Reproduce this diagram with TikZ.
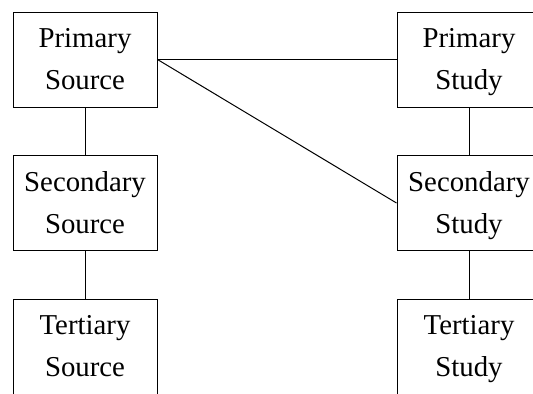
\documentclass[tikz,border=0pt]{standalone}
\usepackage{fontspec}
\setmainfont{Liberation Serif}
\usepackage{tikz}

\newcommand{\twoline}[2]{\raisebox{-0.5pt}[\height][\depth]{\begin{tabular}{@{}c@{}}#1\\#2\end{tabular}}}

\tikzset{
  litbox/.style={draw, line width=0.5pt, minimum width=72pt, minimum height=47.5pt,
    inner sep=0pt, font=\fontsize{14.4}{21}\selectfont},
  link/.style={line width=0.5pt}
}

\begin{document}
\begin{tikzpicture}[x=0.5pt, y=-0.5pt]
  \useasboundingbox (0,0) rectangle (533,393);
  % Nodes
  \node[litbox] (psrc) at (85, 59.5) {\twoline{Primary}{Source}};
  \node[litbox] (ssrc) at (85, 203) {\twoline{Secondary}{Source}};
  \node[litbox] (tsrc) at (85, 346.5) {\twoline{Tertiary}{Source}};

  \node[litbox] (pstd) at (469, 59.5) {\twoline{Primary}{Study}};
  \node[litbox] (sstd) at (469, 203) {\twoline{Secondary}{Study}};
  \node[litbox] (tstd) at (469, 346.5) {\twoline{Tertiary}{Study}};

  % Edges
  \draw[link] (psrc) -- (ssrc);
  \draw[link] (ssrc) -- (tsrc);
  \draw[link] (pstd) -- (sstd);
  \draw[link] (sstd) -- (tstd);

  \draw[link] (psrc.east) -- (pstd.west);
  \draw[link] (psrc.east) -- (sstd.west);
\end{tikzpicture}
\end{document}
